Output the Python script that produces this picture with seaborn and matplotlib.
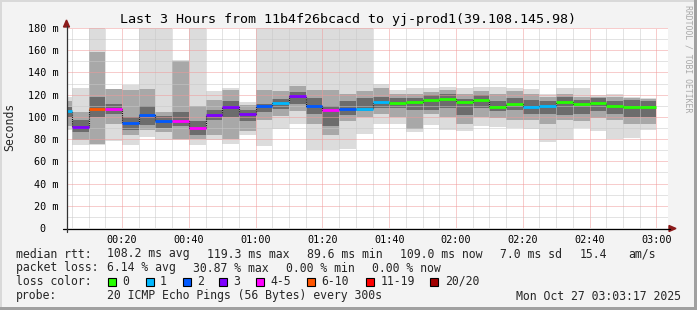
import matplotlib
matplotlib.use("Agg")
import numpy as np
import pandas as pd
import matplotlib.pyplot as plt
import seaborn as sns
from matplotlib.patches import Rectangle, Polygon
from matplotlib.lines import Line2D

# ---------------- data ----------------
slot_minutes = [0, 5, 10, 15, 20, 25, 30, 35, 40, 45, 50, 55,
                60, 65, 70, 75, 80, 85, 90, 95, 100, 105, 110, 115,
                120, 125, 130, 135, 140, 145, 150, 155, 160, 165, 170, 175]
median_ms = [105.6, 91.0, 107.1, 107.3, 94.2, 101.7, 96.4, 96.3, 89.6, 101.7, 109.2, 102.9,
             110.1, 112.5, 119.1, 110.1, 106.5, 107.3, 107.4, 113.0, 112.9, 113.5, 115.2, 116.3,
             113.2, 114.8, 109.2, 111.8, 109.2, 110.1, 113.5, 111.8, 112.9, 110.1, 109.2, 108.9]
loss_slot = ["1", "3", "6-10", "4-5", "2", "2", "2", "4-5", "4-5", "3", "3", "3",
             "2", "1", "3", "2", "4-5", "2", "1", "1", "0", "0", "0", "0",
             "0", "0", "0", "0", "1", "1", "0", "0", "0", "0", "0", "0"]
smoke_min = [88, 75, 75, 78, 75, 82, 79, 79, 75, 79, 76, 84,
             74, 89, 94, 70, 70, 71, 85, 94, 94, 86, 93, 88,
             87, 92, 91, 90, 89, 77, 79, 90, 87, 80, 81, 88]
smoke_max = [118, 126, 180, 125, 129, 180, 180, 151, 180, 123, 126, 113,
             180, 180, 180, 180, 180, 180, 180, 130, 124, 126, 126, 127,
             126, 127, 127, 126, 125, 121, 126, 126, 120, 121, 118, 117]
smoke_mid_lo = [92, 79, 76, 94, 84, 88, 86, 80, 80, 84, 80, 87,
                97, 101, 105, 94, 84, 96, 100, 103, 100, 89, 103, 100,
                94, 100, 99, 97, 97, 94, 97, 96, 99, 97, 94, 94]
smoke_mid_hi = [114, 104, 158, 125, 124, 125, 104, 150, 110, 115, 124, 111,
                124, 123, 128, 124, 124, 121, 123, 126, 121, 121, 122, 124,
                121, 123, 121, 123, 121, 118, 121, 118, 118, 118, 117, 116]
smoke_in_lo = [100, 86, 100, 103, 88, 93, 90, 92, 84, 97, 100, 96,
               104, 107, 112, 103, 92, 102, 105, 108, 108, 106, 106, 108,
               102, 108, 105, 106, 103, 103, 102, 103, 105, 103, 100, 100]
smoke_in_hi = [109, 97, 118, 112, 100, 110, 101, 104, 96, 106, 114, 106,
               112, 116, 122, 117, 110, 114, 117, 118, 117, 117, 120, 121,
               116, 120, 114, 117, 115, 114, 118, 115, 117, 114, 115, 114]

loss_labels = ["0", "1", "2", "3", "4-5", "6-10", "11-19", "20/20"]
loss_colors = ["#26ff00", "#00b8ff", "#0059ff", "#7e00ff", "#ff00ff", "#ff5500", "#ff0000", "#a10000"]

x_tick_minutes = [20, 40, 60, 80, 100, 120, 140, 160, 180]
x_tick_labels = ["00:20", "00:40", "01:00", "01:20", "01:40", "02:00", "02:20", "02:40", "03:00"]
y_tick_values = [0, 20, 40, 60, 80, 100, 120, 140, 160, 180]
y_tick_labels = ["0  ", "20 m", "40 m", "60 m", "80 m", "100 m", "120 m", "140 m", "160 m", "180 m"]

title = "Last 3 Hours from 11b4f26bcacd to yj-prod1(39.108.145.98)"
stats_rtt = [("median rtt:", 16), ("108.2 ms avg", 107.3), ("119.3 ms max", 207.3),
             ("89.6 ms min", 307.3), ("109.0 ms now", 400.3), ("7.0 ms sd", 500.3),
             ("15.4", 579.3), ("am/s", 628)]
stats_loss = [("packet loss:", 16), ("6.14 % avg", 107.3), ("30.87 % max", 193.3),
              ("0.00 % min", 286), ("0.00 % now", 372)]
probe_text = "20 ICMP Echo Pings (56 Bytes) every 300s"
date_text = "Mon Oct 27 03:03:17 2025"

# ---------------- style ----------------
sns.set_style("white")
plt.rcParams['font.family'] = ['DejaVu Sans Mono']

W, H = 697, 310
BG = "#f3f3f3"
fig = plt.figure(figsize=(W / 100, H / 100), dpi=100, facecolor=BG)


def fx(px):
    return px / W


def fy(py):
    return 1 - py / H


ax = fig.add_axes([fx(67), fy(228), fx(668) - fx(67), fy(28) - fy(228)])
ax.set_facecolor("white")
ax.set_xlim(3.5, 183.5)
ax.set_ylim(0, 180)

xs = np.array(slot_minutes, dtype=float)
bands = [(smoke_min, smoke_max, "#dcdcdc"),
         (smoke_mid_lo, smoke_mid_hi, "#a8a8a8"),
         (smoke_in_lo, smoke_in_hi, "#6c6c6c")]
for lo, hi, col in bands:
    lo = np.array(lo, float)
    hi = np.array(hi, float)
    ax.bar(xs, hi - lo, bottom=lo, width=5, align="edge", color=col, linewidth=0, zorder=1)

# median step line (dark dotted) + loss-coloured segments
df = pd.DataFrame({"minute": slot_minutes + [180], "median": median_ms + [median_ms[-1]]})
sns.lineplot(data=df, x="minute", y="median", drawstyle="steps-post", color="#111111",
             lw=0.8, linestyle=(0, (1, 1)), ax=ax, zorder=3)
cmap = dict(zip(loss_labels, loss_colors))
ax.hlines(median_ms, xs, xs + 5, colors=[cmap[l] for l in loss_slot], lw=2.0, zorder=4)
ax.set_xlabel("")
ax.set_ylabel("")

# grid
ax.set_xticks(x_tick_minutes)
ax.set_xticklabels(x_tick_labels)
ax.set_xticks(np.arange(5, 181, 5), minor=True)
ax.set_yticks(y_tick_values)
ax.set_yticklabels(y_tick_labels)
ax.set_yticks(np.arange(10, 180, 20), minor=True)
ax.set_axisbelow(False)
ax.grid(which="major", color="#f09a9a", lw=0.72, ls=(0, (1, 1)), zorder=2.5)
ax.grid(which="minor", color="#c8c8c8", lw=0.72, ls=(0, (1, 1)), zorder=2.5)
ax.tick_params(axis="both", which="major", length=2, width=0.7, color="#e06060",
               direction="out", labelsize=7.3, labelcolor="black")
ax.tick_params(axis="both", which="minor", length=2, width=0.7, color="#999999", direction="out")
ax.tick_params(axis="y", which="major", pad=4.0)
ax.tick_params(axis="x", which="major", pad=3.0)
for s in ax.spines.values():
    s.set_visible(False)

# axis lines with arrows
fig.add_artist(Line2D([fx(63), fx(670)], [fy(228.5), fy(228.5)], color="black", lw=0.9))
fig.add_artist(Line2D([fx(66.5), fx(66.5)], [fy(232), fy(26)], color="#333333", lw=0.9))
fig.add_artist(Polygon([[fx(669), fy(225.5)], [fx(676), fy(228.5)], [fx(669), fy(231.5)]],
                       closed=True, color="#8b1a1a", transform=fig.transFigure))
fig.add_artist(Polygon([[fx(63.5), fy(27)], [fx(66.5), fy(20)], [fx(69.5), fy(27)]],
                       closed=True, color="#8b1a1a", transform=fig.transFigure))

# texts
fs = 8.3
fig.text(fx(347.5), fy(19), title, ha="center", va="center", fontsize=9.6, color="black")
fig.text(fx(10), fy(127), "Seconds", rotation=90, ha="center", va="center", fontsize=8.3)
fig.text(fx(688.3), fy(59), "RRDTOOL / TOBI OETIKER", rotation=270, ha="center", va="center",
         fontsize=5.9, color="#a8a8a8")

for txt, x in stats_rtt:
    fig.text(fx(x), fy(254), txt, ha="left", va="center", fontsize=fs)
for txt, x in stats_loss:
    fig.text(fx(x), fy(268), txt, ha="left", va="center", fontsize=fs)
fig.text(fx(16), fy(281.5), "loss color:", ha="left", va="center", fontsize=fs)
box_x = [108.3, 145.7, 182.7, 219.3, 256, 306.7, 366, 430.3]
for lab, col, bx in zip(loss_labels, loss_colors, box_x):
    fig.add_artist(Rectangle((fx(bx), fy(285.5)), fx(8), 8 / H, facecolor=col,
                             edgecolor="black", lw=0.8, transform=fig.transFigure))
    fig.text(fx(bx + 14.4), fy(281.5), lab, ha="left", va="center", fontsize=fs)
fig.text(fx(16), fy(296), "probe:", ha="left", va="center", fontsize=fs)
fig.text(fx(107.3), fy(296), probe_text, ha="left", va="center", fontsize=fs)
fig.text(fx(680.5), fy(296), date_text, ha="right", va="center", fontsize=fs)

# frame
fig.add_artist(Rectangle((0, fy(2)), 1, 2 / H, facecolor="#d9d9d9", lw=0, transform=fig.transFigure))
fig.add_artist(Rectangle((0, 0), fx(2), 1, facecolor="#d9d9d9", lw=0, transform=fig.transFigure))
fig.add_artist(Rectangle((0, 0), 1, 3 / H, facecolor="#a0a0a0", lw=0, transform=fig.transFigure))
fig.add_artist(Rectangle((fx(694), 0), fx(3), 1, facecolor="#a0a0a0", lw=0, transform=fig.transFigure))

fig.savefig("out.png", dpi=100, facecolor=BG)
